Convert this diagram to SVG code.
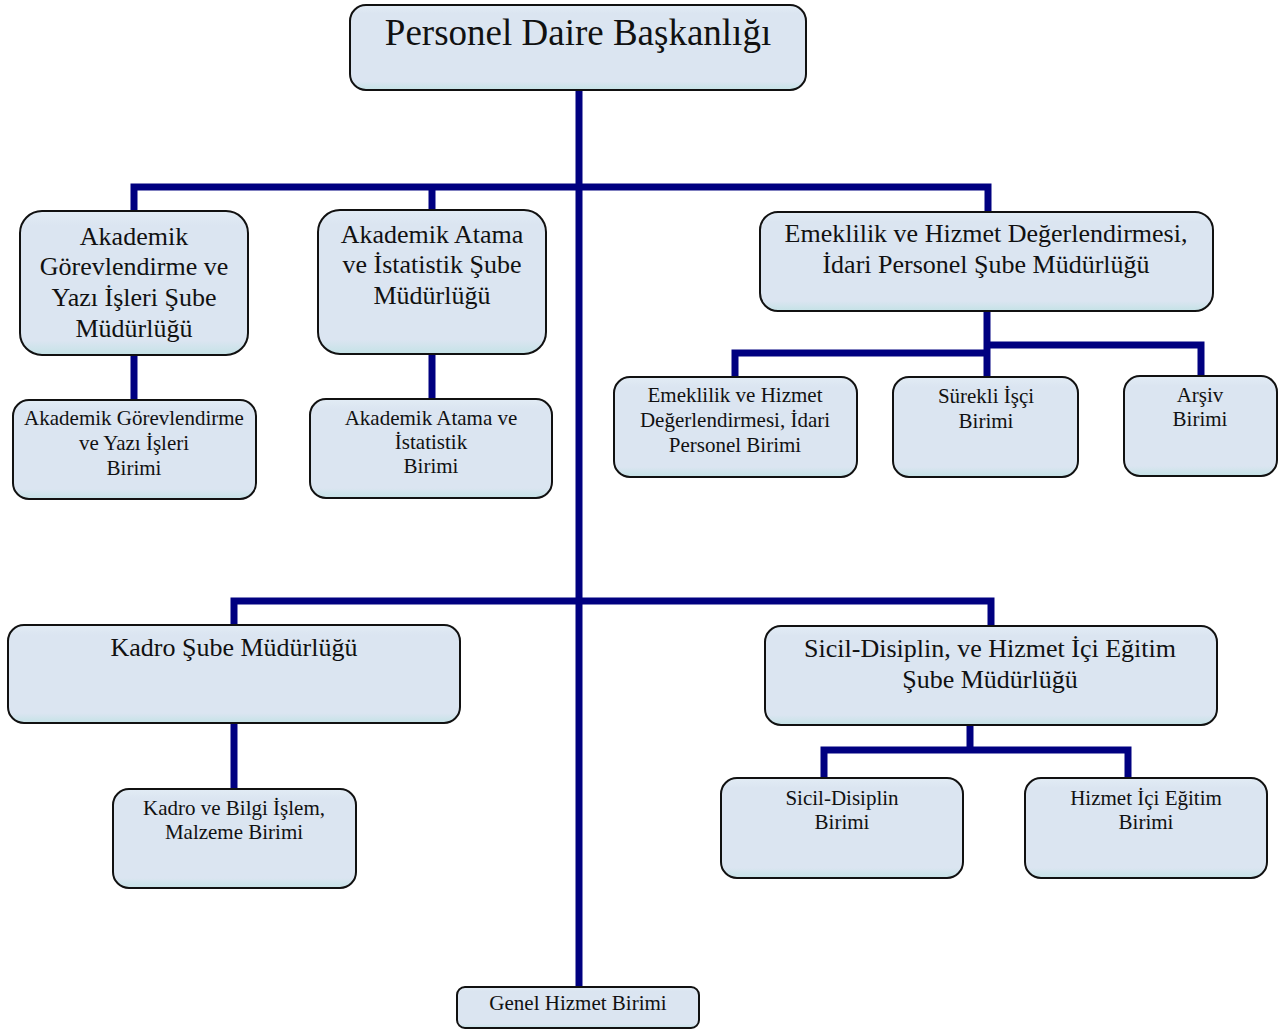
<svg xmlns="http://www.w3.org/2000/svg" width="1286" height="1032" viewBox="0 0 1286 1032">
<defs>
<linearGradient id="g" x1="0" y1="0" x2="0" y2="1">
<stop offset="0" stop-color="#e2ecf5"/>
<stop offset="0.1" stop-color="#dbe5f1"/>
<stop offset="0.9" stop-color="#dbe5f1"/>
<stop offset="1" stop-color="#c4e2e6"/>
</linearGradient>
<style>
.box{fill:url(#g);stroke:#111;stroke-width:2}
.in{fill:none;stroke:#cde7eb;stroke-width:2}
.c{fill:none;stroke:#000080;stroke-width:7;stroke-linecap:butt;stroke-linejoin:miter}
text{font-family:"Liberation Serif","Times New Roman",serif;fill:#111;text-anchor:middle}
.t0{font-size:37px}
.t1{font-size:26px}
.t2{font-size:21px}
</style>
</defs>
<g id="connectors">
<path class="c" d="M579 90V987"/>
<path class="c" d="M134 211V187H988V212"/>
<path class="c" d="M432 187V210"/>
<path class="c" d="M134 355V400"/>
<path class="c" d="M432 354V399"/>
<path class="c" d="M987 311V377"/>
<path class="c" d="M735 377V353H987"/>
<path class="c" d="M987 345H1201V376"/>
<path class="c" d="M234 625V601H991V626"/>
<path class="c" d="M234 723V789"/>
<path class="c" d="M970 725V750"/>
<path class="c" d="M824 778V750H1128V778"/>
</g>
<g id="n0"><rect class="box" x="350" y="5" width="456" height="85" rx="16"/><text class="t0" x="578" y="45">Personel Daire Başkanlığı</text></g>
<g id="n1"><rect class="box" x="20" y="211" width="228" height="144" rx="22"/><text class="t1" x="134"><tspan x="134" y="245">Akademik</tspan><tspan x="134" y="275">Görevlendirme ve</tspan><tspan x="134" y="306">Yazı İşleri Şube</tspan><tspan x="134" y="337">Müdürlüğü</tspan></text></g>
<g id="n2"><rect class="box" x="318" y="210" width="228" height="144" rx="22"/><text class="t1" x="432"><tspan x="432" y="243">Akademik Atama</tspan><tspan x="432" y="273">ve İstatistik Şube</tspan><tspan x="432" y="304">Müdürlüğü</tspan></text></g>
<g id="n3"><rect class="box" x="760" y="212" width="453" height="99" rx="18"/><text class="t1" x="986"><tspan x="986" y="242">Emeklilik ve Hizmet Değerlendirmesi,</tspan><tspan x="986" y="273">İdari Personel Şube Müdürlüğü</tspan></text></g>
<g id="n4"><rect class="box" x="13" y="400" width="243" height="99" rx="16"/><text class="t2" x="134"><tspan x="134" y="425">Akademik Görevlendirme</tspan><tspan x="134" y="450">ve Yazı İşleri</tspan><tspan x="134" y="475">Birimi</tspan></text></g>
<g id="n5"><rect class="box" x="310" y="399" width="242" height="99" rx="16"/><text class="t2" x="431"><tspan x="431" y="425">Akademik Atama ve</tspan><tspan x="431" y="449">İstatistik</tspan><tspan x="431" y="473">Birimi</tspan></text></g>
<g id="n6"><rect class="box" x="614" y="377" width="243" height="100" rx="16"/><text class="t2" x="735"><tspan x="735" y="402">Emeklilik ve Hizmet</tspan><tspan x="735" y="427">Değerlendirmesi, İdari</tspan><tspan x="735" y="452">Personel Birimi</tspan></text></g>
<g id="n7"><rect class="box" x="893" y="377" width="185" height="100" rx="16"/><text class="t2" x="986"><tspan x="986" y="403">Sürekli İşçi</tspan><tspan x="986" y="428">Birimi</tspan></text></g>
<g id="n8"><rect class="box" x="1124" y="376" width="153" height="100" rx="16"/><text class="t2" x="1200"><tspan x="1200" y="402">Arşiv</tspan><tspan x="1200" y="426">Birimi</tspan></text></g>
<g id="n9"><rect class="box" x="8" y="625" width="452" height="98" rx="16"/><text class="t1" x="234" y="656">Kadro Şube Müdürlüğü</text></g>
<g id="n10"><rect class="box" x="765" y="626" width="452" height="99" rx="16"/><text class="t1" x="990"><tspan x="990" y="657">Sicil-Disiplin, ve Hizmet İçi Eğitim</tspan><tspan x="990" y="688">Şube Müdürlüğü</tspan></text></g>
<g id="n11"><rect class="box" x="113" y="789" width="243" height="99" rx="16"/><text class="t2" x="234"><tspan x="234" y="815">Kadro ve Bilgi İşlem,</tspan><tspan x="234" y="839">Malzeme Birimi</tspan></text></g>
<g id="n12"><rect class="box" x="721" y="778" width="242" height="100" rx="16"/><text class="t2" x="842"><tspan x="842" y="805">Sicil-Disiplin</tspan><tspan x="842" y="829">Birimi</tspan></text></g>
<g id="n13"><rect class="box" x="1025" y="778" width="242" height="100" rx="16"/><text class="t2" x="1146"><tspan x="1146" y="805">Hizmet İçi Eğitim</tspan><tspan x="1146" y="829">Birimi</tspan></text></g>
<g id="n14"><rect class="box" x="457" y="987" width="242" height="41" rx="8"/><text class="t2" x="578" y="1010">Genel Hizmet Birimi</text></g>
</svg>
